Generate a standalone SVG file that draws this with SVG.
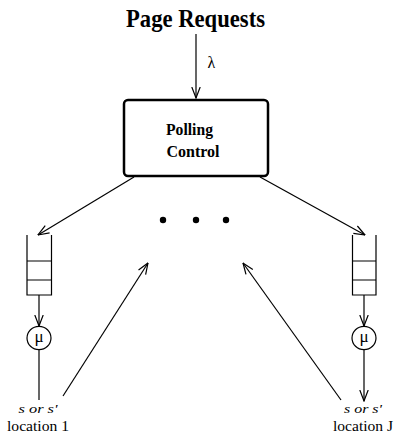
<svg xmlns="http://www.w3.org/2000/svg" width="396" height="440" viewBox="0 0 396 440">
<style>
.ln{stroke:#000;stroke-width:1.2;fill:none}
.t{font-family:"Liberation Serif","Times New Roman",serif;fill:#000}
.b{font-weight:bold}
.g{font-family:"DejaVu Serif","Liberation Serif",serif;fill:#000}
</style>
<defs>
<marker id="ah" viewBox="0 0 12 10" refX="11.5" refY="5" markerWidth="12" markerHeight="10" markerUnits="userSpaceOnUse" orient="auto">
<path d="M0.5,0.8 L11.5,5 L0.5,9.2" fill="none" stroke="#000" stroke-width="1.2"/>
</marker>
</defs>
<rect width="396" height="440" fill="#fff"/>
<g id="title"><text class="t b" x="126" y="26.5" font-size="25" textLength="139" lengthAdjust="spacingAndGlyphs">Page Requests</text></g>
<g id="polling">
<rect x="124" y="100" width="144" height="76" rx="4" fill="none" stroke="#000" stroke-width="2.5"/>
<text class="t b" x="166" y="135" font-size="16.5" textLength="47" lengthAdjust="spacingAndGlyphs">Polling</text>
<text class="t b" x="166.5" y="156.5" font-size="16.5" textLength="53" lengthAdjust="spacingAndGlyphs">Control</text>
</g>
<g id="dots"><circle cx="163" cy="220" r="3.2"/><circle cx="196" cy="220" r="3.2"/><circle cx="226" cy="220" r="3.2"/></g>
<g id="queue1" class="ln"><path d="M27,235 V295 H51.5 V235 M27,261 H51.5 M27,280 H51.5"/></g>
<g id="queueJ" class="ln"><path d="M352.5,235 V295 H376 V235 M352.5,261 H376 M352.5,280 H376"/></g>
<g id="server1"><ellipse cx="39" cy="338" rx="12" ry="11.7" class="ln"/><text class="t" x="39" y="342" font-size="17" text-anchor="middle">μ</text></g>
<g id="serverJ"><ellipse cx="364" cy="338" rx="12" ry="11.7" class="ln"/><text class="t" x="364" y="342" font-size="17" text-anchor="middle">μ</text></g>
<g id="loc1">
<text class="t" x="18.5" y="413" font-size="13" font-style="italic" textLength="39" lengthAdjust="spacingAndGlyphs">s or s'</text>
<text class="t" x="7" y="431" font-size="15.5" textLength="62" lengthAdjust="spacingAndGlyphs">location 1</text>
</g>
<g id="locJ">
<text class="t" x="344" y="413" font-size="13" font-style="italic" textLength="38" lengthAdjust="spacingAndGlyphs">s or s'</text>
<text class="t" x="333" y="431" font-size="15.5" textLength="60" lengthAdjust="spacingAndGlyphs">location J</text>
</g>
<g id="lambda"><text class="t" x="207.5" y="68" font-size="16">λ</text></g>
<g id="connectors" class="ln">
<line x1="196" y1="34" x2="196" y2="98" marker-end="url(#ah)"/>
<line x1="134" y1="177" x2="38" y2="235" marker-end="url(#ah)"/>
<line x1="260" y1="177" x2="365" y2="235" marker-end="url(#ah)"/>
<line x1="39" y1="295" x2="39" y2="326" marker-end="url(#ah)"/>
<line x1="364" y1="295" x2="364" y2="326" marker-end="url(#ah)"/>
<line x1="39" y1="350" x2="39" y2="400"/>
<line x1="364" y1="350" x2="364" y2="401" marker-end="url(#ah)"/>
<line x1="63" y1="396" x2="148" y2="263" marker-end="url(#ah)"/>
<line x1="341" y1="400" x2="243" y2="263" marker-end="url(#ah)"/>
</g>
</svg>
